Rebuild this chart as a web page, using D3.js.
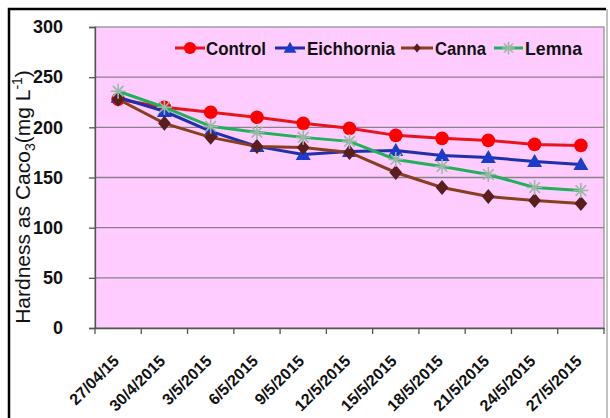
<!DOCTYPE html>
<html><head><meta charset="utf-8">
<script src="https://cdn.jsdelivr.net/npm/d3@7"></script>
<style>html,body{margin:0;padding:0;background:#fff;}svg{display:block;}</style>
</head><body>
<script>
const categories = ["27/04/15","30/4/2015","3/5/2015","6/5/2015","9/5/2015","12/5/2015","15/5/2015","18/5/2015","21/5/2015","24/5/2015","27/5/2015"];
const control    = [228, 220, 215, 210, 204, 199, 192, 189, 187, 183, 182];
const eichhornia = [230, 216, 196, 181, 173, 176, 177, 172, 170, 166, 163];
const canna      = [228, 204, 190, 181, 180, 175, 155, 140, 131, 127, 124];
const lemna      = [236, 220, 201, 195, 190, 186, 168, 161, 153, 140, 137];
const yTicks = [0, 50, 100, 150, 200, 250, 300];
const seriesNames = ["Control","Eichhornia","Canna","Lemna"];

const W = 610, H = 418;
const m = {left: 95, right: 604, top: 27, bottom: 328};
const svg = d3.select("body").append("svg").attr("width", W).attr("height", H);

svg.append("rect").attr("x",0).attr("y",0).attr("width",W).attr("height",H).attr("fill","#fff");
// outer frame
svg.append("path").attr("d",`M9,${H+5}V9H606`).attr("fill","none").attr("stroke","#000").attr("stroke-width",2.5);
svg.append("line").attr("x1",607).attr("x2",607).attr("y1",9).attr("y2",H).attr("stroke","#999").attr("stroke-width",1.2);

const x = d3.scaleBand().domain(categories).range([m.left, m.right]).padding(0);
const y = d3.scaleLinear().domain([0,300]).range([m.bottom, m.top]);

svg.append("rect").attr("x",m.left).attr("y",m.top).attr("width",m.right-m.left).attr("height",m.bottom-m.top)
  .attr("fill","#ffccff").attr("stroke","#8a8a8a").attr("stroke-width",1.2);

// gridlines
svg.append("g").selectAll("line").data(yTicks.filter(d=>d>0&&d<300)).join("line")
  .attr("x1",m.left).attr("x2",m.right).attr("y1",d=>y(d)).attr("y2",d=>y(d))
  .attr("stroke","#8a7f8a").attr("stroke-width",1.3);

// y axis
const yAxis = svg.append("g").attr("transform",`translate(${m.left},0)`)
  .call(d3.axisLeft(y).tickValues(yTicks).tickSize(6).tickPadding(26));
yAxis.select(".domain").attr("stroke","#555").attr("stroke-width",1.3);
yAxis.selectAll(".tick line").attr("stroke","#555").attr("stroke-width",1.3);
yAxis.selectAll(".tick text").attr("font-family","Liberation Sans, Arial, sans-serif")
  .attr("font-weight","bold").attr("font-size",18).attr("fill","#111");

// x axis
const xAxis = svg.append("g").attr("transform",`translate(0,${m.bottom})`)
  .call(d3.axisBottom(x).tickValues([]).tickSizeOuter(0));
xAxis.select(".domain").attr("stroke","#555").attr("stroke-width",1.3);
const bounds = categories.map(c=>x(c)).concat([m.right]);
svg.append("g").selectAll("line").data(bounds).join("line")
  .attr("x1",d=>d).attr("x2",d=>d).attr("y1",m.bottom).attr("y2",m.bottom+6)
  .attr("stroke","#555").attr("stroke-width",1.3);
svg.append("g").selectAll("text").data(categories).join("text")
  .attr("transform",d=>`translate(${x(d)+x.bandwidth()/2+2},362) rotate(-45)`)
  .attr("text-anchor","end")
  .attr("font-family","Liberation Sans, Arial, sans-serif").attr("font-weight","bold").attr("font-size",16)
  .attr("fill","#111").text(d=>d);

// y title
const yt = svg.append("text").attr("transform","translate(30,197) rotate(-90)")
  .attr("text-anchor","middle").attr("font-family","Liberation Sans, Arial, sans-serif")
  .attr("font-size",21).attr("fill","#111");
yt.append("tspan").text("Hardness as Caco");
yt.append("tspan").attr("font-size",14).attr("dy",5).text("3");
yt.append("tspan").attr("dy",-5).text("(mg L");
yt.append("tspan").attr("font-size",14).attr("dy",-8).text("-1");
yt.append("tspan").attr("dy",8).text(")");

const series = [
  {name:"Control", values:control, line:"#e8141c", fill:"#ff0000", stroke:"#ff0000", shape:"circle"},
  {name:"Eichhornia", values:eichhornia, line:"#1f2fae", fill:"#1a3cc8", stroke:"#1a3cc8", shape:"triangle"},
  {name:"Canna", values:canna, line:"#8a3e1e", fill:"#5a1e1e", stroke:"#5a1e1e", shape:"diamond"},
  {name:"Lemna", values:lemna, line:"#22b05a", fill:"none", stroke:"#9ab8a8", shape:"asterisk"}
];
function marker(g, s, cx, cy, scale){
  if(s.shape==="circle"){
    g.append("circle").attr("cx",cx).attr("cy",cy).attr("r",6.8*scale).attr("fill",s.fill);
  } else if(s.shape==="triangle"){
    const r=7.5*scale;
    g.append("path").attr("d",`M${cx},${cy-r}L${cx+r},${cy+r*0.75}L${cx-r},${cy+r*0.75}Z`).attr("fill",s.fill);
  } else if(s.shape==="diamond"){
    const r=7.5*scale;
    g.append("path").attr("d",`M${cx},${cy-r}L${cx+r*0.85},${cy}L${cx},${cy+r}L${cx-r*0.85},${cy}Z`).attr("fill",s.fill);
  } else {
    const r=7.5*scale;
    const d=[0,45,90,135].map(a=>{const t=a*Math.PI/180;return `M${cx-r*Math.cos(t)},${cy-r*Math.sin(t)}L${cx+r*Math.cos(t)},${cy+r*Math.sin(t)}`;}).join("");
    g.append("path").attr("d",d).attr("stroke",s.stroke).attr("stroke-width",1.6).attr("fill","none");
  }
}
const line = d3.line().x((d,i)=>x(categories[i])+x.bandwidth()/2).y(d=>y(d));
series.forEach(s=>{
  const g = svg.append("g");
  g.append("path").datum(s.values).attr("d",line).attr("fill","none").attr("stroke",s.line).attr("stroke-width",3);
  s.values.forEach((v,i)=>marker(g,s,x(categories[i])+x.bandwidth()/2,y(v),1));
});

// legend
const legendPos = [
  {x1:175, x2:205, tx:206, tw:60},
  {x1:275, x2:305, tx:307, tw:88},
  {x1:401, x2:433, tx:435, tw:51},
  {x1:494, x2:523, tx:525, tw:57}
];
series.forEach((s,i)=>{
  const p = legendPos[i], ly = 48;
  const g = svg.append("g");
  g.append("line").attr("x1",p.x1).attr("x2",p.x2).attr("y1",ly).attr("y2",ly).attr("stroke",s.line).attr("stroke-width",3);
  marker(g, s, (p.x1+p.x2)/2, ly, s.shape==="diamond"?0.6:(s.shape==="circle"?0.9:0.85));
  g.append("text").attr("x",p.tx).attr("y",55).attr("font-family","Liberation Sans, Arial, sans-serif")
    .attr("font-weight","bold").attr("font-size",19).attr("fill","#111")
    .attr("textLength",p.tw).attr("lengthAdjust","spacingAndGlyphs").text(s.name);
});
</script>
</body></html>
